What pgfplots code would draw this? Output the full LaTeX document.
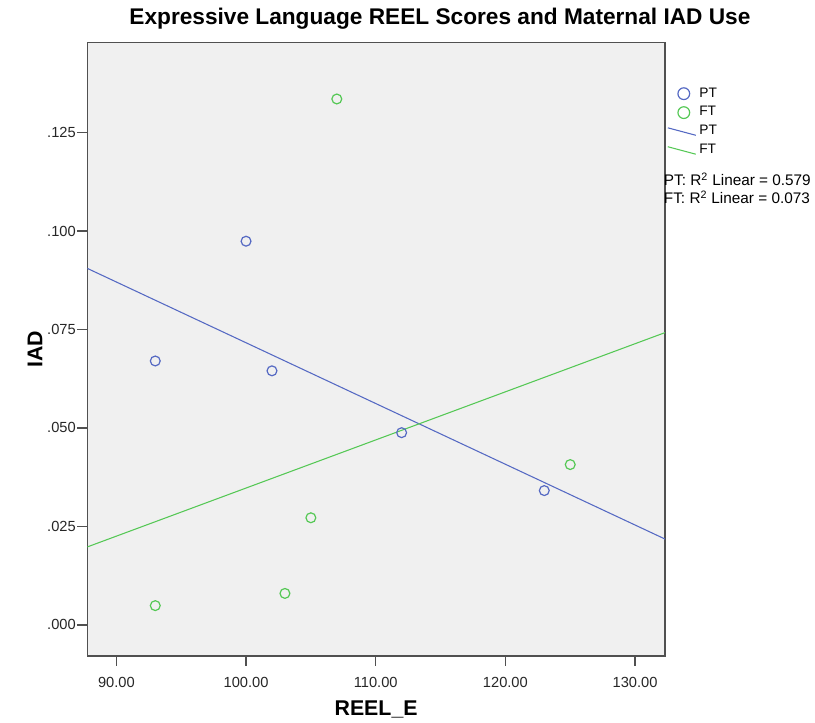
\documentclass[border=0pt]{standalone}
\usepackage{fontspec}
\setmainfont{Liberation Sans}
\usepackage{pgfplots}
\pgfplotsset{compat=1.18}
\definecolor{ptblue}{RGB}{85,105,195}
\definecolor{ftgreen}{RGB}{85,200,85}
\definecolor{bgc}{RGB}{240,240,240}
\definecolor{framec}{RGB}{80,80,80}
\pgfplotsset{
  markleg/.style={legend image code/.code={\draw[##1,mark size=4.4pt,only marks] plot coordinates {(12pt,0pt)};}},
  lineleg/.style={legend image code/.code={\draw[##1] (0pt,2.8pt) -- (21pt,-2.8pt);}},
}
\begin{document}
\begin{tikzpicture}
\path[use as bounding box] (-65.5pt,-50.25pt) rectangle (545.8pt,492pt);
\begin{axis}[
  at={(0,0)}, anchor=south west,
  scale only axis, width=433.3pt, height=460pt,
  xmin=87.76, xmax=132.31, ymin=-0.00787, ymax=0.1478,
  axis background/.style={fill=bgc},
  axis line style={framec, line width=1.1pt},
  xtick={90,100,110,120,130},
  xticklabels={90.00,100.00,110.00,120.00,130.00},
  ytick={0,0.025,0.05,0.075,0.1,0.125},
  yticklabels={.000,.025,.050,.075,.100,.125},
  tick align=outside, xtick pos=bottom, ytick pos=left,
  major tick length=7.5pt,
  tick style={framec, line width=0.9pt},
  ticklabel style={font=\fontsize{11}{13}\selectfont, text=black!85},
  /pgf/number format/assume math mode=true,
  yticklabel style={inner sep=1pt},
  xticklabel style={inner sep=1pt, yshift=-7.5pt},
  legend style={at={(1,0.927)}, anchor=north west, xshift=1.5pt,
    draw=none, fill=none, inner sep=0pt, row sep=5.2pt,
    nodes={inner sep=0pt, text height=7pt, text depth=2pt},
    font=\fontsize{10.3}{12}\selectfont,
    /tikz/every odd column/.append style={column sep=2.25pt}},
  legend cell align=left,
]
\addplot[only marks, mark=o, mark size=3.7pt, ptblue, line width=0.9pt, markleg]
  coordinates {(93,0.0670) (100,0.0974) (102,0.0645) (112,0.0488) (123,0.0341)};
\addlegendentry{PT}
\addplot[only marks, mark=o, mark size=3.7pt, ftgreen, line width=0.9pt, markleg]
  coordinates {(93,0.0049) (103,0.0080) (105,0.0272) (107,0.1335) (125,0.0407)};
\addlegendentry{FT}
\addplot[ptblue, line width=0.8pt, no marks, lineleg]
  coordinates {(87.76,0.0905) (132.31,0.0218)};
\addlegendentry{PT}
\addplot[ftgreen, line width=0.8pt, no marks, lineleg]
  coordinates {(87.76,0.0198) (132.31,0.0742)};
\addlegendentry{FT}
\end{axis}
\node[font=\bfseries\fontsize{17}{20}\selectfont] at (264.5pt,478pt) {Expressive Language REEL Scores and Maternal IAD Use};
\node[font=\bfseries\fontsize{16}{19}\selectfont] at (216.6pt,-40pt) {REEL\_E};
\node[rotate=90, font=\bfseries\fontsize{16}{19}\selectfont] at (-39.2pt,230pt) {IAD};
\node[anchor=west, inner sep=0pt, font=\fontsize{11.5}{13}\selectfont] at (432.3pt,357.5pt) {PT: R\textsuperscript{2} Linear = 0.579};
\node[anchor=west, inner sep=0pt, font=\fontsize{11.5}{13}\selectfont] at (432.3pt,344pt) {FT: R\textsuperscript{2} Linear = 0.073};
\end{tikzpicture}
\end{document}
